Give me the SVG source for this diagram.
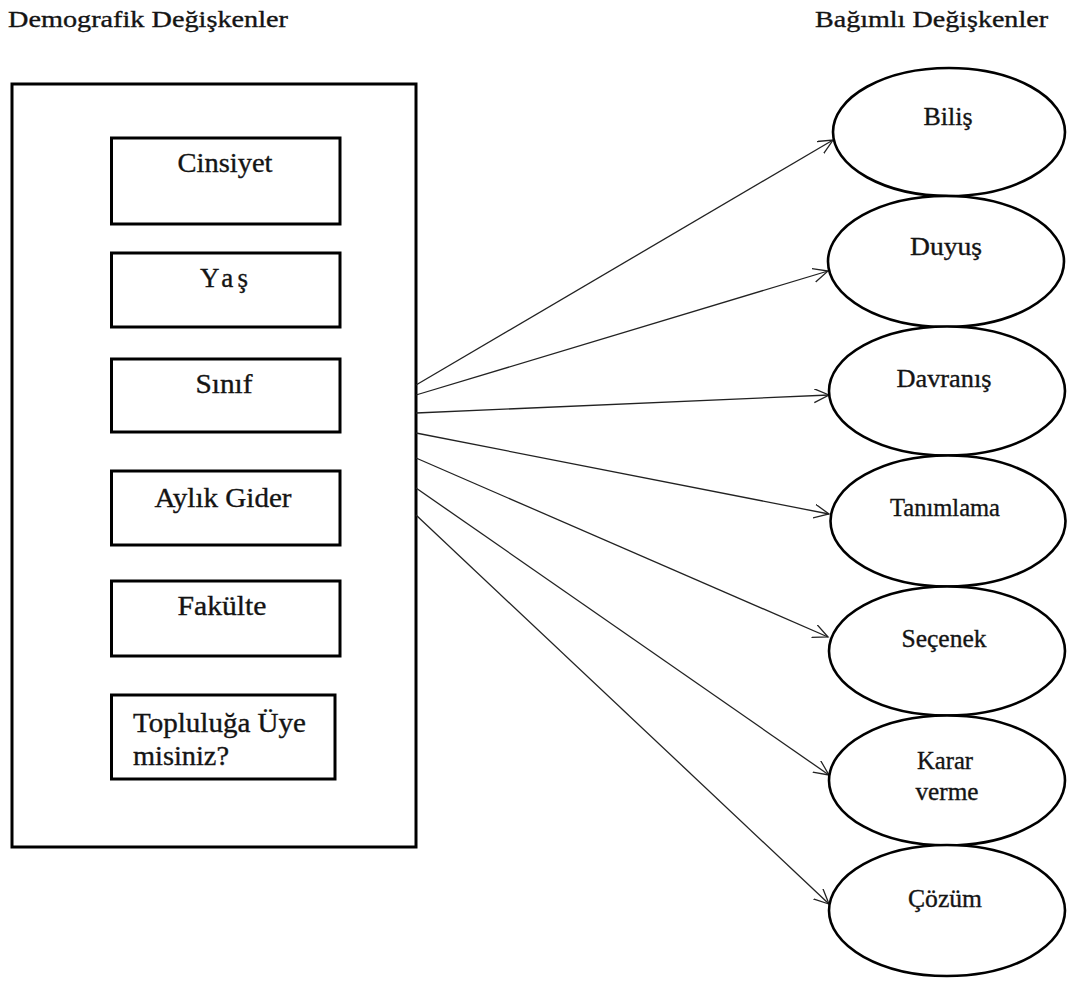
<svg xmlns="http://www.w3.org/2000/svg" width="1067" height="983" viewBox="0 0 1067 983">
<style>
text{font-family:"Liberation Serif","Times New Roman",serif;fill:#141414;stroke:#141414;stroke-width:0.35}
.t{font-size:23px}
.b{font-size:27px}
.e{font-size:25px}
.box{fill:#fff;stroke:#000;stroke-width:3}
.ell{fill:#fff;stroke:#000;stroke-width:2.6}
.c{stroke:#222;stroke-width:1.3;fill:none}
</style>
<defs>
<marker id="ah" markerUnits="userSpaceOnUse" markerWidth="18" markerHeight="16" refX="15" refY="7" orient="auto" viewBox="0 0 18 16">
<path d="M0,0 L15,7 L0,14" fill="none" stroke="#222" stroke-width="1.3"/>
</marker>
</defs>
<g id="titles">
<text class="t" x="8" y="27" textLength="280" lengthAdjust="spacingAndGlyphs">Demografik Değişkenler</text>
<text class="t" x="815" y="27" textLength="233" lengthAdjust="spacingAndGlyphs">Bağımlı Değişkenler</text>
</g>
<g id="demografik">
<rect class="box" x="12" y="84" width="404" height="763"/>
</g>
<g id="cinsiyet"><rect class="box" x="111.5" y="138" width="228.5" height="86"/><text class="b" x="225" y="172" text-anchor="middle" textLength="95" lengthAdjust="spacingAndGlyphs">Cinsiyet</text></g>
<g id="yas"><rect class="box" x="111.5" y="253" width="228.5" height="74"/><text class="b" x="224" y="287" text-anchor="middle" textLength="48" lengthAdjust="spacing">Yaş</text></g>
<g id="sinif"><rect class="box" x="111.5" y="359" width="228.5" height="73"/><text class="b" x="224" y="393" text-anchor="middle" textLength="57" lengthAdjust="spacingAndGlyphs">Sınıf</text></g>
<g id="aylik"><rect class="box" x="111.5" y="471" width="228.5" height="74"/><text class="b" x="223" y="507" text-anchor="middle" textLength="137" lengthAdjust="spacingAndGlyphs">Aylık Gider</text></g>
<g id="fakulte"><rect class="box" x="111.5" y="581" width="228.5" height="75"/><text class="b" x="222" y="615" text-anchor="middle" textLength="89" lengthAdjust="spacingAndGlyphs">Fakülte</text></g>
<g id="topluluk"><rect class="box" x="111.5" y="695" width="223.5" height="84"/><text class="b" x="133" y="732" textLength="173" lengthAdjust="spacingAndGlyphs">Topluluğa Üye</text><text class="b" x="133" y="765" textLength="96" lengthAdjust="spacingAndGlyphs">misiniz?</text></g>
<g id="connectors">
<line class="c" x1="416" y1="385" x2="833" y2="140" marker-end="url(#ah)"/>
<line class="c" x1="416" y1="395" x2="828" y2="271" marker-end="url(#ah)"/>
<line class="c" x1="416" y1="413" x2="829" y2="395" marker-end="url(#ah)"/>
<line class="c" x1="416" y1="433" x2="829" y2="514" marker-end="url(#ah)"/>
<line class="c" x1="416" y1="458" x2="828" y2="637" marker-end="url(#ah)"/>
<line class="c" x1="416" y1="488" x2="829" y2="775" marker-end="url(#ah)"/>
<line class="c" x1="416" y1="515" x2="829" y2="904" marker-end="url(#ah)"/>
</g>
<g id="bilis"><ellipse class="ell" cx="949" cy="132" rx="116" ry="64"/><text class="e" x="948" y="125" text-anchor="middle" textLength="49" lengthAdjust="spacingAndGlyphs">Biliş</text></g>
<g id="duyus"><ellipse class="ell" cx="946" cy="261.5" rx="118" ry="65.5"/><text class="e" x="946" y="255" text-anchor="middle" textLength="72" lengthAdjust="spacingAndGlyphs">Duyuş</text></g>
<g id="davranis"><ellipse class="ell" cx="947" cy="391" rx="118" ry="64.5"/><text class="e" x="944" y="387" text-anchor="middle" textLength="95" lengthAdjust="spacingAndGlyphs">Davranış</text></g>
<g id="tanimlama"><ellipse class="ell" cx="948" cy="521" rx="117.5" ry="65.5"/><text class="e" x="945" y="516" text-anchor="middle" textLength="110" lengthAdjust="spacingAndGlyphs">Tanımlama</text></g>
<g id="secenek"><ellipse class="ell" cx="947" cy="651" rx="118" ry="64.5"/><text class="e" x="944" y="647" text-anchor="middle" textLength="85" lengthAdjust="spacingAndGlyphs">Seçenek</text></g>
<g id="karar"><ellipse class="ell" cx="947" cy="780.5" rx="118" ry="65"/><text class="e" x="945" y="769" text-anchor="middle" textLength="56" lengthAdjust="spacingAndGlyphs">Karar</text><text class="e" x="947" y="800" text-anchor="middle" textLength="63" lengthAdjust="spacingAndGlyphs">verme</text></g>
<g id="cozum"><ellipse class="ell" cx="947" cy="910.5" rx="118" ry="65.5"/><text class="e" x="945" y="907" text-anchor="middle" textLength="74" lengthAdjust="spacingAndGlyphs">Çözüm</text></g>
</svg>
